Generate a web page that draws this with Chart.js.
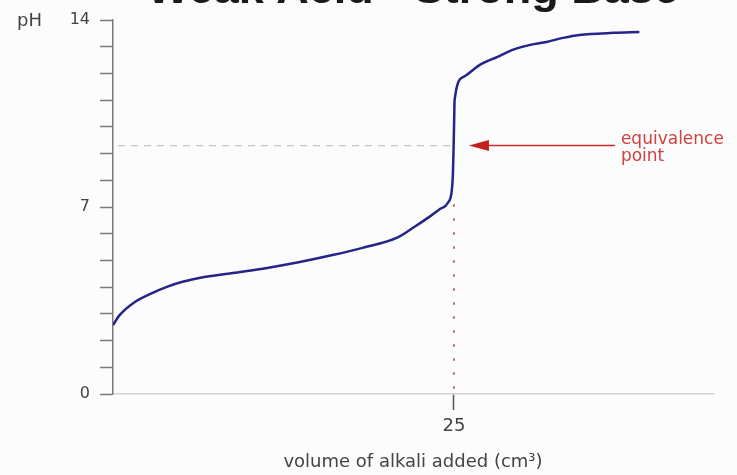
<!DOCTYPE html>
<html>
<head>
<meta charset="utf-8">
<script src="https://cdn.jsdelivr.net/npm/chart.js@4.4.1/dist/chart.umd.min.js"></script>
<style>
  html, body { margin: 0; padding: 0; background: #fcfcfc; }
  #wrap { width: 737px; height: 475px; }
</style>
</head>
<body>
<div id="wrap"><canvas id="titration" width="737" height="475"></canvas></div>
<script>
// titration curve
const volume = [0, 0.5, 1.5, 2.7, 4.0, 5.1, 6.4, 8.8, 11.3, 13.7, 16.1, 18.3, 20.8, 22.2, 23.2, 24.0, 24.55, 24.85, 24.93, 24.98, 25.02, 25.05, 25.7, 26.9, 28.2, 29.3, 30.6, 31.8, 33.0, 34.2, 36.7, 38.6];
const pH     = [2.58, 2.96, 3.41, 3.74, 4.02, 4.2, 4.35, 4.53, 4.72, 4.94, 5.20, 5.47, 5.84, 6.29, 6.63, 6.93, 7.15, 7.64, 8.3, 9.3, 10.3, 11.0, 11.87, 12.32, 12.62, 12.88, 13.07, 13.18, 13.33, 13.44, 13.52, 13.55];

const yTickLabels = { 0: '0', 7: '7', 14: '14' };
const xTickValues = [25];

const eqVolume = 25;
const eqPH = 9.3;
const dropTopPH = 7.1;

const chartTitle = 'Weak Acid - Strong Base';
const yLabel = 'pH';
const xLabel = 'volume of alkali added (cm\u00B3)';
const noteLines = ['equivalence', 'point'];

const grey = '#444';

// dashed guides, arrow, title and labels
const notes = {
  id: 'notes',
  beforeDatasetsDraw(chart) {
    const { ctx, chartArea, scales: { x, y } } = chart;
    const ex = x.getPixelForValue(eqVolume), ey = y.getPixelForValue(eqPH);
    ctx.save();
    ctx.strokeStyle = '#c4c4c4';
    ctx.lineWidth = 1.2;
    ctx.setLineDash([7, 6]);
    ctx.beginPath();
    ctx.moveTo(chartArea.left + 5, ey);
    ctx.lineTo(ex, ey);
    ctx.stroke();

    ctx.strokeStyle = '#9a4450';
    ctx.lineWidth = 1.5;
    ctx.setLineDash([2.5, 11.5]);
    ctx.beginPath();
    ctx.moveTo(ex, y.getPixelForValue(dropTopPH));
    ctx.lineTo(ex, chartArea.bottom);
    ctx.stroke();
    ctx.restore();
  },
  afterDatasetsDraw(chart) {
    const { ctx, chartArea, scales: { x, y } } = chart;
    const ex = x.getPixelForValue(eqVolume), ey = y.getPixelForValue(eqPH);
    ctx.save();
    // arrow
    ctx.strokeStyle = '#cc2a2a';
    ctx.fillStyle = '#c42020';
    ctx.lineWidth = 1.5;
    ctx.beginPath();
    ctx.moveTo(ex + 30, ey);
    ctx.lineTo(ex + 161, ey);
    ctx.stroke();
    ctx.beginPath();
    ctx.moveTo(ex + 15, ey);
    ctx.lineTo(ex + 35, ey - 5.5);
    ctx.lineTo(ex + 35, ey + 5.5);
    ctx.closePath();
    ctx.fill();

    ctx.font = '17px "DejaVu Sans"';
    ctx.fillStyle = '#d04040';
    ctx.textAlign = 'left';
    ctx.textBaseline = 'middle';
    ctx.fillText(noteLines[0], ex + 167, ey - 6);
    ctx.fillText(noteLines[1], ex + 167, ey + 11);

    // pH label at top of axis
    ctx.fillStyle = grey;
    ctx.font = '18px "DejaVu Sans"';
    ctx.fillText(yLabel, 17, chartArea.top + 1);

    // title, cut off at the top edge
    ctx.fillStyle = '#1a1a1a';
    ctx.font = 'bold 45px "Liberation Sans"';
    ctx.textAlign = 'center';
    ctx.textBaseline = 'alphabetic';
    ctx.fillText(chartTitle, (chartArea.left + chartArea.right) / 2, 3);
    ctx.restore();
  }
};

const ctx = document.getElementById('titration').getContext('2d');
const myChart = new Chart(ctx, {
  type: 'line',
  data: {
    datasets: [{
      data: volume.map((v, i) => ({ x: v, y: pH[i] })),
      borderColor: '#24248a',
      borderWidth: 2.5,
      pointRadius: 0,
      cubicInterpolationMode: 'monotone',
      fill: false
    }]
  },
  options: {
    responsive: false,
    animation: false,
    layout: { padding: { left: 0, right: 24, top: 20, bottom: 0 } },
    plugins: {
      legend: { display: false },
      tooltip: { enabled: false }
    },
    scales: {
      x: {
        type: 'linear',
        min: 0,
        max: 44,
        afterFit(scale) { scale.height = 81; },
        afterBuildTicks(scale) { scale.ticks = xTickValues.map(v => ({ value: v })); },
        grid: { drawOnChartArea: false, drawTicks: true, tickLength: 16, tickColor: '#555', tickWidth: 1.5 },
        border: { display: true, color: '#d2d2d2', width: 1.5 },
        ticks: {
          color: grey,
          padding: 6,
          maxRotation: 0,
          font: { family: 'DejaVu Sans', size: 18 }
        },
        title: {
          display: true,
          text: xLabel,
          color: grey,
          font: { family: 'DejaVu Sans', size: 18 },
          padding: { top: 0, bottom: 2 }
        }
      },
      y: {
        min: 0,
        max: 14,
        afterFit(scale) { scale.width = 113; },
        grid: { drawOnChartArea: false, drawTicks: true, tickLength: 13, tickColor: '#7a7a7a', tickWidth: 1.5 },
        border: { display: true, color: '#7a7a7a', width: 1.5 },
        ticks: {
          stepSize: 1,
          autoSkip: false,
          color: grey,
          padding: 10,
          font: { family: 'DejaVu Sans', size: 16 },
          callback: function (value) {
            return yTickLabels[value] !== undefined ? yTickLabels[value] : '';
          }
        }
      }
    }
  },
  plugins: [notes]
});
</script>
</body>
</html>
